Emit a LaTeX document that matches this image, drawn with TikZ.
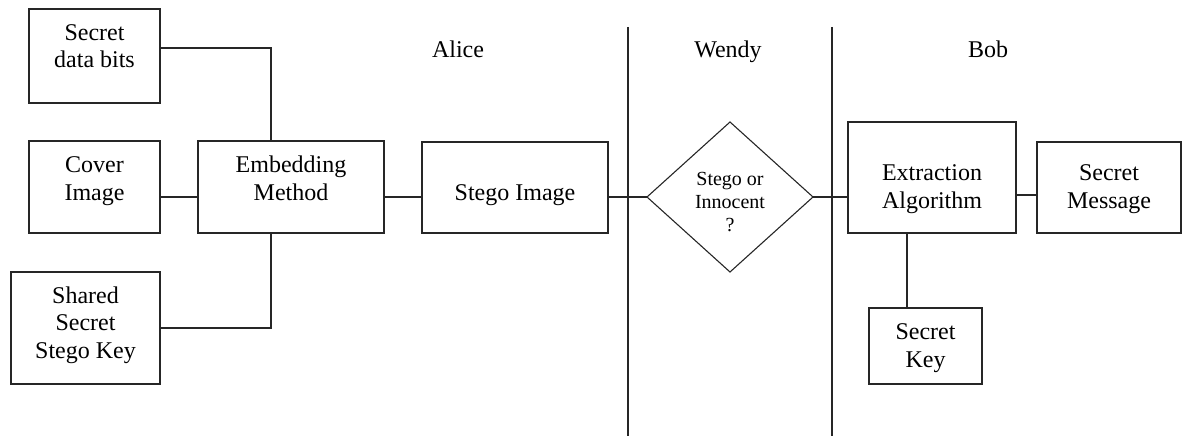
\documentclass[tikz,border=0pt]{standalone}
\usepackage{fontspec}
\setmainfont{Liberation Serif}
\usetikzlibrary{shapes.geometric}

\tikzset{
  ink/.style={draw=black!85, line width=1.1pt},
  box/.style={ink, rectangle, inner sep=0pt, outer sep=0pt, align=center,
    font=\fontsize{24}{27.5}\selectfont},
  sz/.style 2 args={minimum width=#1pt, minimum height=#2pt},
  % places the last text line: its baseline sits #1/2 pt below the centre
  lift/.style={text height=#1pt, text depth=0pt},
  wire/.style={ink, line cap=rect},
  party/.style={anchor=base, font=\fontsize{24}{27}\selectfont},
}

\begin{document}
\begin{tikzpicture}[x=1pt, y=-1pt]
\useasboundingbox (0,0) rectangle (1186,436);

% party names
\node[party] (alice) at (458,58) {Alice};
\node[party] (wendy) at (728,58) {Wendy};
\node[party] (bob)   at (988,58) {Bob};

% lanes separating the parties
\coordinate (l1top) at (628,27);  \coordinate (l1bot) at (628,436);
\coordinate (l2top) at (832,27);  \coordinate (l2bot) at (832,436);
\draw[ink] (l1top) -- (l1bot);
\draw[ink] (l2top) -- (l2bot);

% Alice's side
\node[box, sz={131}{94},  lift=24] (sdb) at (94.5,56)  {Secret\\data bits};
\node[box, sz={131}{92},  lift=26] (cov) at (94.5,187) {Cover\\Image};
\node[box, sz={149}{112}, lift=60] (ssk) at (85.5,328) {Shared\\Secret\\Stego Key};
\node[box, sz={186}{92},  lift=26] (emb) at (291,187)  {Embedding\\Method};
\node[box, sz={186}{91},  lift=25] (stg) at (515,187.5) {Stego Image};

% Wendy's check
\node[ink, diamond, aspect=1.1, inner sep=0pt, outer sep=0pt, align=center,
      minimum width=166pt, minimum height=150pt, lift=68,
      font=\fontsize{20}{23}\selectfont] (dia) at (730,197) {Stego or\\Innocent\\?};

% Bob's side
\node[box, sz={168}{111}, lift=61] (ext) at (932,177.5)  {Extraction\\Algorithm};
\node[box, sz={144}{91},  lift=41] (msg) at (1109,187.5) {Secret\\Message};
\node[box, sz={113}{76},  lift=42] (key) at (925.5,346)  {Secret\\Key};

% connectors
\draw[wire] (sdb.east |- 0,48) -| (emb.north -| 271,0);
\draw[wire] (ssk.east) -| (emb.south -| 271,0);
\draw[wire] (cov.east |- 0,197) -- (emb.west |- 0,197);
\draw[wire] (emb.east |- 0,197) -- (stg.west |- 0,197);
\draw[wire] (stg.east |- dia.west) -- (dia.west);
\draw[wire] (dia.east) -- (ext.west |- dia.east);
\draw[wire] (ext.east |- 0,195) -- (msg.west |- 0,195);
\draw[wire] (ext.south -| 907,0) -- (key.north -| 907,0);
\end{tikzpicture}
\end{document}
